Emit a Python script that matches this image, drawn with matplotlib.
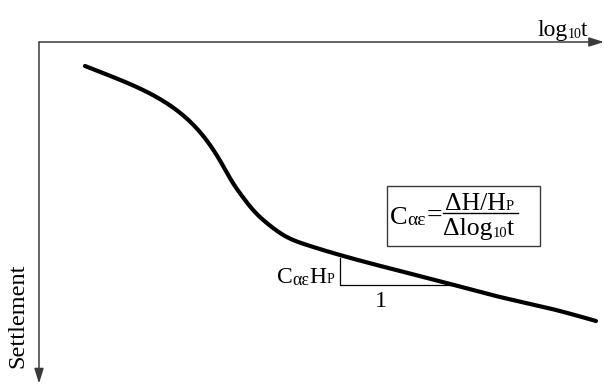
import matplotlib
matplotlib.use("Agg")
import matplotlib.pyplot as plt
from matplotlib.lines import Line2D
from matplotlib.patches import Rectangle
import numpy as np

plt.rcParams['font.family'] = ['Liberation Serif', 'DejaVu Serif']

# log10 t (horizontal distance from origin) and settlement (downward distance)
log_t = [46, 74, 108, 134, 154, 171, 183, 193, 203, 215, 229, 246, 268, 308, 361, 415, 461, 511, 557]
settlement = [24, 35, 50, 65.5, 82.5, 103, 122, 139.5, 154, 169, 182, 194, 203, 215, 229, 243, 255, 266.5, 279]

# slope triangle: start / end in log t, settlement at start / end
tri_x = [301, 415]
tri_y = [216, 243]

W, H = 604, 387
fig = plt.figure(figsize=(W / 100, H / 100), dpi=100)
x0, y0 = 39, 42
ax = fig.add_axes([x0 / W, 0, 1 - x0 / W, 1 - y0 / H])
ax.set_xlim(0, W - x0)
ax.set_ylim(H - y0, 0)
ax.axis('off')

axc = '#3a3a3a'
ax.annotate('', xy=(1.0, 1.0), xytext=(0, 1.0), xycoords='axes fraction',
            arrowprops=dict(arrowstyle='-|>,head_length=0.9,head_width=0.28',
                            color=axc, lw=1.1, shrinkA=0, shrinkB=0))
ax.annotate('', xy=(0, 0.01), xytext=(0, 1.0), xycoords='axes fraction',
            arrowprops=dict(arrowstyle='-|>,head_length=0.9,head_width=0.28',
                            color=axc, lw=1.1, shrinkA=0, shrinkB=0))


def natural_spline(x, y, xn):
    x = np.asarray(x, float); y = np.asarray(y, float)
    n = len(x); h = np.diff(x)
    A = np.zeros((n, n)); b = np.zeros(n)
    A[0, 0] = A[-1, -1] = 1
    for i in range(1, n - 1):
        A[i, i - 1] = h[i - 1]; A[i, i] = 2 * (h[i - 1] + h[i]); A[i, i + 1] = h[i]
        b[i] = 6 * ((y[i + 1] - y[i]) / h[i] - (y[i] - y[i - 1]) / h[i - 1])
    M = np.linalg.solve(A, b)
    idx = np.clip(np.searchsorted(x, xn) - 1, 0, n - 2)
    xi, xi1, hi = x[idx], x[idx + 1], h[idx]
    return (M[idx] * (xi1 - xn)**3 / (6 * hi) + M[idx + 1] * (xn - xi)**3 / (6 * hi)
            + (y[idx] / hi - M[idx] * hi / 6) * (xi1 - xn)
            + (y[idx + 1] / hi - M[idx + 1] * hi / 6) * (xn - xi))


xn = np.linspace(log_t[0], log_t[-1], 1000)
ax.plot(xn, natural_spline(log_t, settlement, xn), color='black', lw=3.0,
        solid_capstyle='round')

ax.plot([tri_x[0], tri_x[0], tri_x[1]], [tri_y[0], tri_y[1], tri_y[1]],
        color='black', lw=0.9)

renderer = fig.canvas.get_renderer()


def seq(x, yb, pieces):
    for s, size, dy in pieces:
        t = fig.text(x / W, 1 - (yb + dy) / H, s, fontsize=size, ha='left', va='baseline')
        x += t.get_window_extent(renderer).width
    return x


# axis labels
seq(537, 36, [('log', 17, 0), ('10', 10, 2), ('t', 17, 0)])
fig.text(17.5 / W, 1 - 316 / H, 'Settlement', fontsize=17.5, rotation=90,
         ha='center', va='center')

# triangle labels
seq(277, 283, [('C', 17, 0), ('αε', 13, 2), ('H', 17, 0), ('P', 10, 0)])
fig.text(381 / W, 1 - 307 / H, '1', fontsize=17.5, ha='center', va='baseline')

# formula box
fig.patches.append(Rectangle((387 / W, 1 - 246 / H), (540 - 387) / W, 60 / H,
                             transform=fig.transFigure, fill=False, ec=axc, lw=1.0))
seq(390, 224, [('C', 19, 0), ('αε', 14, 1), ('=', 20, -1)])
seq(445, 209.5, [('ΔH/H', 18.5, 0), ('P', 10.5, 0)])
seq(443, 235, [('Δlog', 18.5, 0), ('10', 10.5, 2), ('t', 18.5, 0)])
fig.lines.append(Line2D([443 / W, 518 / W], [1 - 212.5 / H, 1 - 212.5 / H],
                        transform=fig.transFigure, color='black', lw=1.0))

fig.savefig('out.png', dpi=100)
